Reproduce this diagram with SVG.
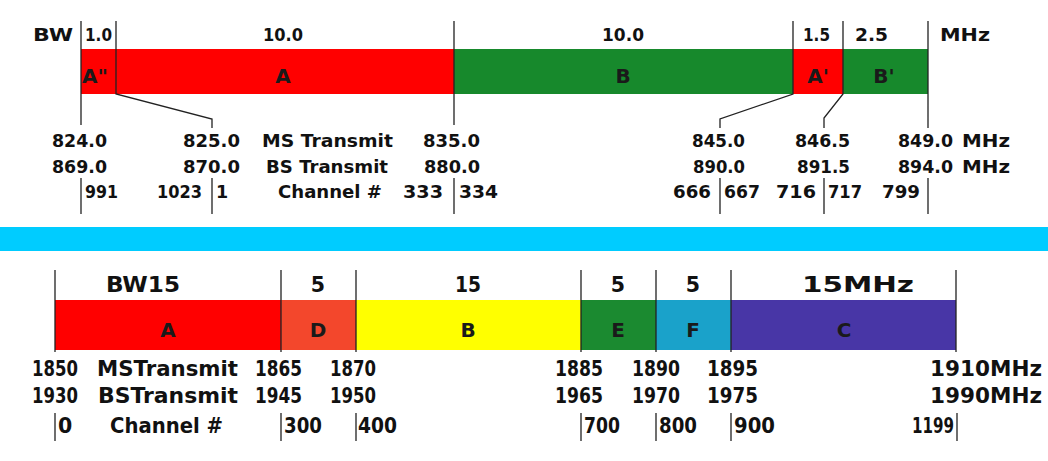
<svg xmlns="http://www.w3.org/2000/svg" width="1048" height="461" viewBox="0 0 1048 461">
<style>
.t{font-family:"DejaVu Sans","Liberation Sans",sans-serif;font-weight:bold;font-size:17.5px;fill:#111}
.h{font-size:18px}
.bt{font-family:"DejaVu Sans","Liberation Sans",sans-serif;font-weight:bold;font-size:20.5px;fill:#111}
.lb{font-family:"DejaVu Sans","Liberation Sans",sans-serif;font-weight:bold;font-size:20px;fill:#1a1a1a;text-anchor:middle}
.c{text-anchor:middle}
.ln{stroke:#222;stroke-width:1.3;fill:none}
</style>
<rect width="1048" height="461" fill="#fff"/>
<rect id="divider" x="0" y="227" width="1048" height="24" fill="#00CCFF"/>

<!-- Top band (800 MHz) -->
<g id="seg-A2"><rect x="81" y="49" width="35" height="45" fill="#FF0000"/><text class="lb" x="95" y="83">A"</text></g>
<g id="seg-A"><rect x="116" y="49" width="338" height="45" fill="#FF0000"/><text class="lb" x="283" y="83">A</text></g>
<g id="seg-B"><rect x="454" y="49" width="339" height="45" fill="#17892C"/><text class="lb" x="623" y="83" fill="#0d260f">B</text></g>
<g id="seg-A1"><rect x="793" y="49" width="50" height="45" fill="#FF0000"/><text class="lb" x="818" y="83">A'</text></g>
<g id="seg-B1"><rect x="843" y="49" width="85" height="45" fill="#17892C"/><text class="lb" x="884" y="83" fill="#0d260f">B'</text></g>

<g id="top-headers">
<text class="t h" x="33" y="41" textLength="40" lengthAdjust="spacingAndGlyphs">BW</text>
<text class="t h" x="85" y="41" textLength="27" lengthAdjust="spacingAndGlyphs">1.0</text>
<text class="t h" x="263" y="41" textLength="40" lengthAdjust="spacingAndGlyphs">10.0</text>
<text class="t h" x="602" y="41" textLength="42" lengthAdjust="spacingAndGlyphs">10.0</text>
<text class="t h" x="803" y="41" textLength="27" lengthAdjust="spacingAndGlyphs">1.5</text>
<text class="t h" x="855" y="41" textLength="33" lengthAdjust="spacingAndGlyphs">2.5</text>
<text class="t h" x="940" y="41" textLength="50" lengthAdjust="spacingAndGlyphs">MHz</text>
</g>

<g id="top-ms">
<text class="t" x="52" y="147" textLength="55" lengthAdjust="spacingAndGlyphs">824.0</text>
<text class="t" x="183" y="147" textLength="57" lengthAdjust="spacingAndGlyphs">825.0</text>
<text class="t" x="262" y="147" textLength="131" lengthAdjust="spacingAndGlyphs">MS Transmit</text>
<text class="t" x="423" y="147" textLength="57" lengthAdjust="spacingAndGlyphs">835.0</text>
<text class="t" x="692" y="147" textLength="53" lengthAdjust="spacingAndGlyphs">845.0</text>
<text class="t" x="795" y="147" textLength="55" lengthAdjust="spacingAndGlyphs">846.5</text>
<text class="t" x="898" y="147" textLength="55" lengthAdjust="spacingAndGlyphs">849.0</text>
<text class="t" x="962" y="147" textLength="48" lengthAdjust="spacingAndGlyphs">MHz</text>
</g>
<g id="top-bs">
<text class="t" x="52" y="173" textLength="55" lengthAdjust="spacingAndGlyphs">869.0</text>
<text class="t" x="183" y="173" textLength="57" lengthAdjust="spacingAndGlyphs">870.0</text>
<text class="t" x="266" y="173" textLength="122" lengthAdjust="spacingAndGlyphs">BS Transmit</text>
<text class="t" x="424" y="173" textLength="56" lengthAdjust="spacingAndGlyphs">880.0</text>
<text class="t" x="693" y="173" textLength="52" lengthAdjust="spacingAndGlyphs">890.0</text>
<text class="t" x="797" y="173" textLength="53" lengthAdjust="spacingAndGlyphs">891.5</text>
<text class="t" x="898" y="173" textLength="55" lengthAdjust="spacingAndGlyphs">894.0</text>
<text class="t" x="962" y="173" textLength="48" lengthAdjust="spacingAndGlyphs">MHz</text>
</g>
<g id="top-channels">
<text class="t" x="85" y="198" textLength="33" lengthAdjust="spacingAndGlyphs">991</text>
<text class="t" x="157" y="198" textLength="45" lengthAdjust="spacingAndGlyphs">1023</text>
<text class="t" x="216" y="198">1</text>
<text class="t" x="278" y="198" textLength="104" lengthAdjust="spacingAndGlyphs">Channel #</text>
<text class="t" x="403" y="198" textLength="40" lengthAdjust="spacingAndGlyphs">333</text>
<text class="t" x="459" y="198" textLength="39" lengthAdjust="spacingAndGlyphs">334</text>
<text class="t" x="673" y="198" textLength="38" lengthAdjust="spacingAndGlyphs">666</text>
<text class="t" x="724" y="198" textLength="36" lengthAdjust="spacingAndGlyphs">667</text>
<text class="t" x="776" y="198" textLength="40" lengthAdjust="spacingAndGlyphs">716</text>
<text class="t" x="828" y="198" textLength="34" lengthAdjust="spacingAndGlyphs">717</text>
<text class="t" x="882" y="198" textLength="38" lengthAdjust="spacingAndGlyphs">799</text>
</g>

<!-- Bottom band (1900 MHz PCS) -->
<g id="seg-pA"><rect x="55" y="300" width="226" height="50" fill="#FF0000"/><text class="lb" x="168" y="337">A</text></g>
<g id="seg-pD"><rect x="281" y="300" width="75" height="50" fill="#F3472C"/><text class="lb" x="318" y="337">D</text></g>
<g id="seg-pB"><rect x="356" y="300" width="225" height="50" fill="#FFFF00"/><text class="lb" x="468" y="337">B</text></g>
<g id="seg-pE"><rect x="581" y="300" width="75" height="50" fill="#1B8A30"/><text class="lb" x="618" y="337" fill="#0c2a12">E</text></g>
<g id="seg-pF"><rect x="656" y="300" width="75" height="50" fill="#1AA2CA"/><text class="lb" x="693" y="337" fill="#0b2d3a">F</text></g>
<g id="seg-pC"><rect x="731" y="300" width="225" height="50" fill="#4836A6"/><text class="lb" x="844" y="337" fill="#15104f">C</text></g>

<g id="bottom-headers">
<text class="bt" x="106" y="292" textLength="74" lengthAdjust="spacingAndGlyphs">BW15</text>
<text class="bt c" x="318" y="292">5</text>
<text class="bt c" x="468" y="292" textLength="26" lengthAdjust="spacingAndGlyphs">15</text>
<text class="bt c" x="618" y="292">5</text>
<text class="bt c" x="693" y="292">5</text>
<text class="bt" x="802" y="292" textLength="112" lengthAdjust="spacingAndGlyphs">15MHz</text>
</g>
<g id="bottom-ms">
<text class="bt" x="32" y="376" textLength="46" lengthAdjust="spacingAndGlyphs">1850</text>
<text class="bt" x="97" y="376" textLength="141" lengthAdjust="spacingAndGlyphs">MSTransmit</text>
<text class="bt" x="255" y="376" textLength="47" lengthAdjust="spacingAndGlyphs">1865</text>
<text class="bt" x="330" y="376" textLength="46" lengthAdjust="spacingAndGlyphs">1870</text>
<text class="bt" x="555" y="376" textLength="48" lengthAdjust="spacingAndGlyphs">1885</text>
<text class="bt" x="632" y="376" textLength="48" lengthAdjust="spacingAndGlyphs">1890</text>
<text class="bt" x="707" y="376" textLength="51" lengthAdjust="spacingAndGlyphs">1895</text>
<text class="bt" x="930" y="376" textLength="112" lengthAdjust="spacingAndGlyphs">1910MHz</text>
</g>
<g id="bottom-bs">
<text class="bt" x="32" y="403" textLength="46" lengthAdjust="spacingAndGlyphs">1930</text>
<text class="bt" x="98" y="403" textLength="140" lengthAdjust="spacingAndGlyphs">BSTransmit</text>
<text class="bt" x="255" y="403" textLength="47" lengthAdjust="spacingAndGlyphs">1945</text>
<text class="bt" x="330" y="403" textLength="46" lengthAdjust="spacingAndGlyphs">1950</text>
<text class="bt" x="555" y="403" textLength="48" lengthAdjust="spacingAndGlyphs">1965</text>
<text class="bt" x="632" y="403" textLength="48" lengthAdjust="spacingAndGlyphs">1970</text>
<text class="bt" x="707" y="403" textLength="51" lengthAdjust="spacingAndGlyphs">1975</text>
<text class="bt" x="930" y="403" textLength="112" lengthAdjust="spacingAndGlyphs">1990MHz</text>
</g>
<g id="bottom-channels">
<text class="bt" x="58" y="433">0</text>
<text class="bt" x="110" y="433" textLength="113" lengthAdjust="spacingAndGlyphs">Channel #</text>
<text class="bt" x="284" y="433" textLength="38" lengthAdjust="spacingAndGlyphs">300</text>
<text class="bt" x="358" y="433" textLength="39" lengthAdjust="spacingAndGlyphs">400</text>
<text class="bt" x="584" y="433" textLength="36" lengthAdjust="spacingAndGlyphs">700</text>
<text class="bt" x="659" y="433" textLength="38" lengthAdjust="spacingAndGlyphs">800</text>
<text class="bt" x="734" y="433" textLength="41" lengthAdjust="spacingAndGlyphs">900</text>
<text class="bt" x="912" y="433" textLength="42" lengthAdjust="spacingAndGlyphs">1199</text>
</g>

<g id="connectors" class="ln">
<path d="M81 21V125M116 21V94L212 119V128M454 21V125M793 21V94L720 119V128M843 21V94L824 118V128M928 21V128"/>
<path d="M81 178V214M212 178V214M454 178V214M720 178V214M824 178V214M928 178V214"/>
<path d="M55 270V352M281 270V352M356 270V352M581 270V352M656 270V352M731 270V352M956 270V352"/>
<path d="M55 413V441M281 413V441M356 413V441M581 413V441M656 413V441M731 413V441M957 413V441"/>
</g>
</svg>
